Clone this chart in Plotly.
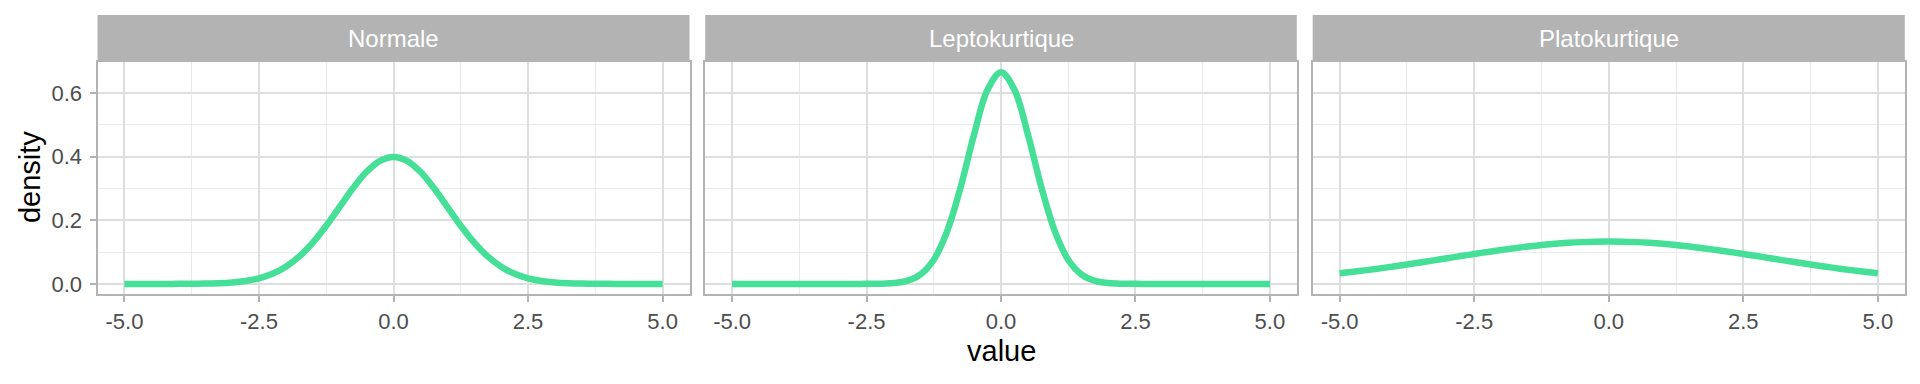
import plotly.graph_objects as go

# ---- data ----
x_values = [-5.0, -4.75, -4.5, -4.25, -4.0, -3.75, -3.5, -3.25, -3.0, -2.75,
            -2.5, -2.25, -2.0, -1.75, -1.5, -1.25, -1.0, -0.75, -0.5, -0.25,
            0.0, 0.25, 0.5, 0.75, 1.0, 1.25, 1.5, 1.75, 2.0, 2.25,
            2.5, 2.75, 3.0, 3.25, 3.5, 3.75, 4.0, 4.25, 4.5, 4.75, 5.0]

normale = [0.0, 0.0, 0.0, 0.0, 0.0001, 0.0004, 0.0009, 0.0020, 0.0044, 0.0091,
           0.0175, 0.0317, 0.0540, 0.0863, 0.1295, 0.1826, 0.2420, 0.3011, 0.3521, 0.3867,
           0.3989, 0.3867, 0.3521, 0.3011, 0.2420, 0.1826, 0.1295, 0.0863, 0.0540, 0.0317,
           0.0175, 0.0091, 0.0044, 0.0020, 0.0009, 0.0004, 0.0001, 0.0, 0.0, 0.0, 0.0]

leptokurtique = [0.0, 0.0, 0.0, 0.0, 0.0, 0.0, 0.0, 0.0, 0.0, 0.0,
                 0.0001, 0.0006, 0.0026, 0.0095, 0.0292, 0.0759, 0.1658, 0.3043, 0.4698, 0.6096,
                 0.6649, 0.6096, 0.4698, 0.3043, 0.1658, 0.0759, 0.0292, 0.0095, 0.0026, 0.0006,
                 0.0001, 0.0, 0.0, 0.0, 0.0, 0.0, 0.0, 0.0, 0.0, 0.0, 0.0]

platokurtique = [0.0332, 0.0380, 0.0432, 0.0488, 0.0547, 0.0609, 0.0673, 0.0740, 0.0807, 0.0874,
                 0.0940, 0.1004, 0.1065, 0.1122, 0.1174, 0.1219, 0.1258, 0.1289, 0.1312, 0.1325,
                 0.1330, 0.1325, 0.1312, 0.1289, 0.1258, 0.1219, 0.1174, 0.1122, 0.1065, 0.1004,
                 0.0940, 0.0874, 0.0807, 0.0740, 0.0673, 0.0609, 0.0547, 0.0488, 0.0432, 0.0380,
                 0.0332]

facet_labels = ["Normale", "Leptokurtique", "Platokurtique"]
series = [normale, leptokurtique, platokurtique]

x_tickvals = [-5.0, -2.5, 0.0, 2.5, 5.0]
x_ticktext = ["-5.0", "-2.5", "0.0", "2.5", "5.0"]
x_minor = [-3.75, -1.25, 1.25, 3.75]
y_tickvals = [0.0, 0.2, 0.4, 0.6]
y_ticktext = ["0.0", "0.2", "0.4", "0.6"]
y_minor = [0.1, 0.3, 0.5]

# ---- layout geometry ----
W, H = 1920, 384
panels_px = [(97.5, 689.5), (705.2, 1296.8), (1312.7, 1904.8)]
plot_top, plot_bot = 62, 296
strip_top = 15
y_dom = [1 - plot_bot / H, 1 - plot_top / H]

LINE = "#45DF98"
GRID = "#DEDEDE"
BORDER = "#B3B3B3"
FONT = "Liberation Sans, Arial, sans-serif"

fig = go.Figure()
shapes = []
annotations = []

for i, (lab, ys) in enumerate(zip(facet_labels, series)):
    n = "" if i == 0 else str(i + 1)
    fig.add_trace(go.Scatter(
        x=x_values, y=ys, mode="lines", line=dict(color=LINE, width=6.5, shape="spline", smoothing=1.0),
        xaxis="x" + n, yaxis="y" + n, showlegend=False, hoverinfo="skip"))
    x0, x1 = panels_px[i]
    fig.layout["xaxis" + n] = dict(
        domain=[x0 / W, x1 / W], range=[-5.5, 5.5], anchor="y" + n,
        tickmode="array", tickvals=x_tickvals, ticktext=x_ticktext,
        showgrid=True, gridcolor=GRID, gridwidth=1.5, zeroline=False,
        minor=dict(tickmode="array", tickvals=x_minor, showgrid=True, gridcolor="#EBEBEB", gridwidth=0.9),
        showline=True, mirror=True, linecolor=BORDER, linewidth=2,
        ticks="outside", ticklen=6, tickwidth=1.5, tickcolor=BORDER,
        tickfont=dict(family=FONT, size=22, color="#4D4D4D"),
    )
    yax = dict(
        domain=y_dom, range=[-0.0332, 0.6981], anchor="x" + n,
        tickmode="array", tickvals=y_tickvals, ticktext=y_ticktext,
        showgrid=True, gridcolor=GRID, gridwidth=1.5, zeroline=False,
        minor=dict(tickmode="array", tickvals=y_minor, showgrid=True, gridcolor="#EBEBEB", gridwidth=0.9),
        showline=True, mirror=True, linecolor=BORDER, linewidth=2,
        tickfont=dict(family=FONT, size=22, color="#4D4D4D"),
    )
    if i == 0:
        yax.update(ticks="outside", ticklen=6, tickwidth=1.5, tickcolor=BORDER,
                   showticklabels=True, ticklabelstandoff=3)
    else:
        yax.update(ticks="", showticklabels=False)
    fig.layout["yaxis" + n] = yax

    # strip
    shapes.append(dict(type="rect", xref="paper", yref="paper",
                       x0=x0 / W, x1=x1 / W, y0=1 - plot_top / H, y1=1 - strip_top / H,
                       fillcolor=BORDER, line=dict(width=0), layer="below"))
    annotations.append(dict(text=lab, xref="paper", yref="paper",
                            x=(x0 + x1) / 2 / W, y=1 - (strip_top + plot_top) / 2 / H,
                            xanchor="center", yanchor="middle", showarrow=False,
                            font=dict(family=FONT, size=24, color="white")))

annotations.append(dict(text="value", xref="paper", yref="paper", x=1001 / W, y=1 - 353 / H,
                        xanchor="center", yanchor="middle", showarrow=False,
                        font=dict(family=FONT, size=29, color="black")))
annotations.append(dict(text="density", xref="paper", yref="paper", x=30 / W, y=1 - 178 / H,
                        xanchor="center", yanchor="middle", showarrow=False, textangle=-90,
                        font=dict(family=FONT, size=29, color="black")))

fig.update_layout(
    width=W, height=H, margin=dict(l=0, r=0, t=0, b=0),
    paper_bgcolor="white", plot_bgcolor="white",
    shapes=shapes, annotations=annotations,
)

fig.write_html("out.html", config={"displayModeBar": False},
               post_script="document.body.style.margin='0';document.body.style.overflow='hidden';")
